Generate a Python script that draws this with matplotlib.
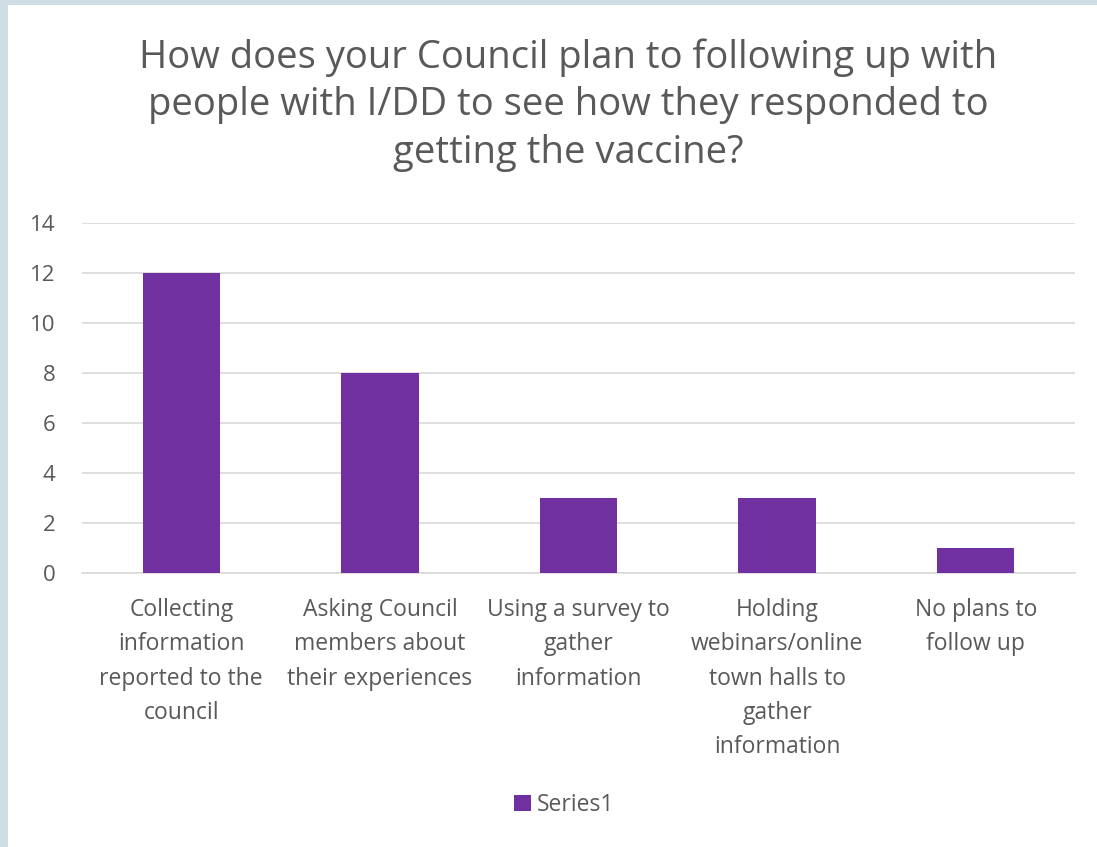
import matplotlib
matplotlib.use('Agg')
import matplotlib.pyplot as plt
from matplotlib.patches import Rectangle

# data
categories = [
    "Collecting\ninformation\nreported to the\ncouncil",
    "Asking Council\nmembers about\ntheir experiences",
    "Using a survey to\ngather\ninformation",
    "Holding\nwebinars/online\ntown halls to\ngather\ninformation",
    "No plans to\nfollow up",
]
values = [12, 8, 3, 3, 1]
yticks = [0, 2, 4, 6, 8, 10, 12, 14]
series_name = "Series1"
title = ("How does your Council plan to following up with\n"
         "people with I/DD to see how they responded to\n"
         "getting the vaccine?")

plt.rcParams['font.family'] = ['Open Sans', 'DejaVu Sans']
text_color = '#595959'
bar_color = '#7030a0'

fig = plt.figure(figsize=(10.97, 8.47), dpi=100)
fig.patch.set_facecolor('#cfdde4')
# white chart area inside the border
fig.patches.append(Rectangle((8 / 1097, 0), 1, 1 - 5 / 847, transform=fig.transFigure,
                             facecolor='white', edgecolor='none', zorder=-1))

ax = fig.add_axes([82 / 1097, 1 - 573 / 847, 993 / 1097, 350 / 847])
ax.set_facecolor('none')
x = range(len(categories))
ax.bar(x, values, width=0.39, color=bar_color, label=series_name, zorder=3)

ax.set_ylim(0, 14)
ax.set_xlim(-0.5, len(categories) - 0.5)
ax.set_yticks(yticks)
ax.grid(axis='y', color='#d9d9d9', linewidth=1.2, zorder=0)
ax.set_xticks(list(x))
ax.set_xticklabels(categories, fontsize=16.5, color=text_color, linespacing=1.57, va='top')
ax.tick_params(axis='y', labelsize=16, labelcolor=text_color, length=0, pad=19)
ax.tick_params(axis='x', length=0, pad=18)
for s in ['top', 'right', 'left']:
    ax.spines[s].set_visible(False)
ax.spines['bottom'].set_color('#d9d9d9')
ax.spines['bottom'].set_linewidth(1.2)

fig.text(0.518, 1 - 38 / 847, title, ha='center', va='top', fontsize=27.5,
         color=text_color, linespacing=1.34)

leg = fig.legend(loc='center', bbox_to_anchor=(0.514, 1 - 805 / 847), frameon=False,
                 fontsize=16.5, handlelength=0.75, handleheight=0.75, handletextpad=0.25)
for t in leg.get_texts():
    t.set_color(text_color)

fig.savefig('out.png', dpi=100)
